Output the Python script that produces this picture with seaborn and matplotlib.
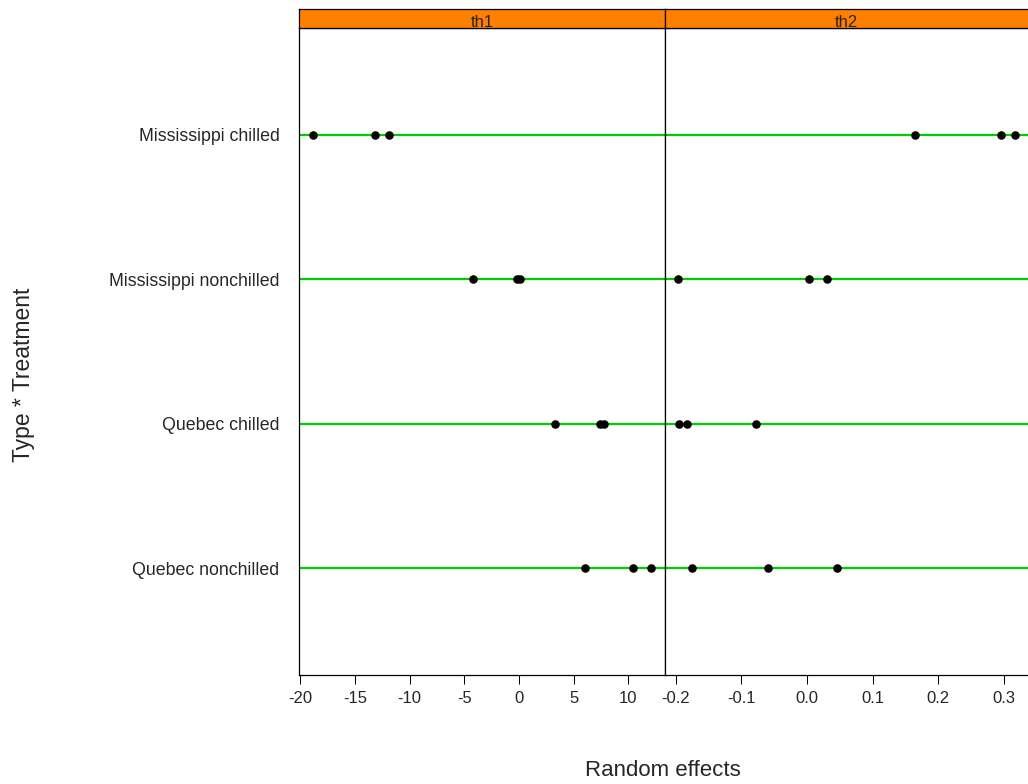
import matplotlib
matplotlib.use("Agg")
import matplotlib.pyplot as plt
import seaborn as sns
import pandas as pd
import numpy as np

sns.set_style("white")
plt.rcParams['font.family'] = ['Liberation Sans', 'DejaVu Sans']

categories = ["Mississippi chilled", "Mississippi nonchilled", "Quebec chilled", "Quebec nonchilled"]
panels = ["th1", "th2"]
th1_values = [
    [-18.87, -13.17, -11.86],
    [-4.17, -0.19, 0.11],
    [3.25, 7.37, 7.80],
    [6.06, 10.43, 12.10],
]
th2_values = [
    [0.164, 0.296, 0.316],
    [-0.196, 0.003, 0.030],
    [-0.195, -0.183, -0.078],
    [-0.175, -0.060, 0.046],
]
th1_ticks = [-20, -15, -10, -5, 0, 5, 10]
th2_ticks = [-0.2, -0.1, 0.0, 0.1, 0.2, 0.3]
th2_ticklabels = ["-0.2", "-0.1", "0.0", "0.1", "0.2", "0.3"]

rows = []
for p, vals in zip(panels, [th1_values, th2_values]):
    for c, vs in zip(categories, vals):
        for v in vs:
            rows.append({"panel": p, "cat": c, "pos": categories.index(c), "value": v})
df = pd.DataFrame(rows)

W, H = 1028, 784
fig = plt.figure(figsize=(W / 100, H / 100), dpi=100)

def fx(px):
    return px / W

def fy(py):
    return 1 - py / H

panel_top, panel_bot = 28, 675
strip_top = 9
lefts = [299, 665]
rights = [665, 1028]
tick_sets = [(th1_ticks, [str(t) for t in th1_ticks]), (th2_ticks, th2_ticklabels)]

for i, p in enumerate(panels):
    ax = fig.add_axes([fx(lefts[i]), fy(panel_bot), fx(rights[i] - lefts[i]), (panel_bot - panel_top) / H])
    sub = df[df.panel == p]
    for k in range(len(categories)):
        ax.axhline(k, color="#00CC00", lw=1.6, zorder=1)
    sns.scatterplot(data=sub, x="value", y="pos", ax=ax, color="black", s=38,
                    edgecolor="black", linewidth=0, zorder=3, legend=False)
    vmin, vmax = sub.value.min(), sub.value.max()
    ext = 0.04 * (vmax - vmin)
    ax.set_xlim(vmin - ext, vmax + ext)
    ax.set_ylim(len(categories) - 1 + 0.74, -0.74)
    ticks, labels = tick_sets[i]
    ax.set_xticks(ticks)
    ax.set_xticklabels(labels)
    ax.tick_params(axis="x", direction="out", length=6.5, width=0.75, pad=5,
                   labelsize=12, bottom=True, color="black")
    ax.set_xlabel("")
    ax.set_ylabel("")
    if i == 0:
        ax.set_yticks(range(len(categories)))
        ax.set_yticklabels(categories)
        ax.tick_params(axis="y", length=0, width=0, pad=14, labelsize=12.8, left=False)
    else:
        ax.set_yticks([])
    for s in ax.spines.values():
        s.set_color("black")
        s.set_linewidth(0.9)
        s.set_visible(True)
    if i == 1:
        ax.spines["right"].set_visible(False)
    # strip
    sax = fig.add_axes([fx(lefts[i]), fy(panel_top), fx(rights[i] - lefts[i]), (panel_top - strip_top) / H])
    sax.set_facecolor("#FF7F00")
    sax.set_xticks([])
    sax.set_yticks([])
    for s in sax.spines.values():
        s.set_color("black")
        s.set_linewidth(0.9)
    if i == 1:
        sax.spines["right"].set_visible(False)
    sax.text(0.5, 0.3, p, ha="center", va="center", fontsize=12, transform=sax.transAxes)

fig.text(fx(663), fy(771), "Random effects", ha="center", va="center", fontsize=16)
fig.text(fx(24), fy(375), "Type * Treatment", ha="center", va="center", rotation=90, fontsize=16.5)

fig.savefig("out.png", dpi=100)
